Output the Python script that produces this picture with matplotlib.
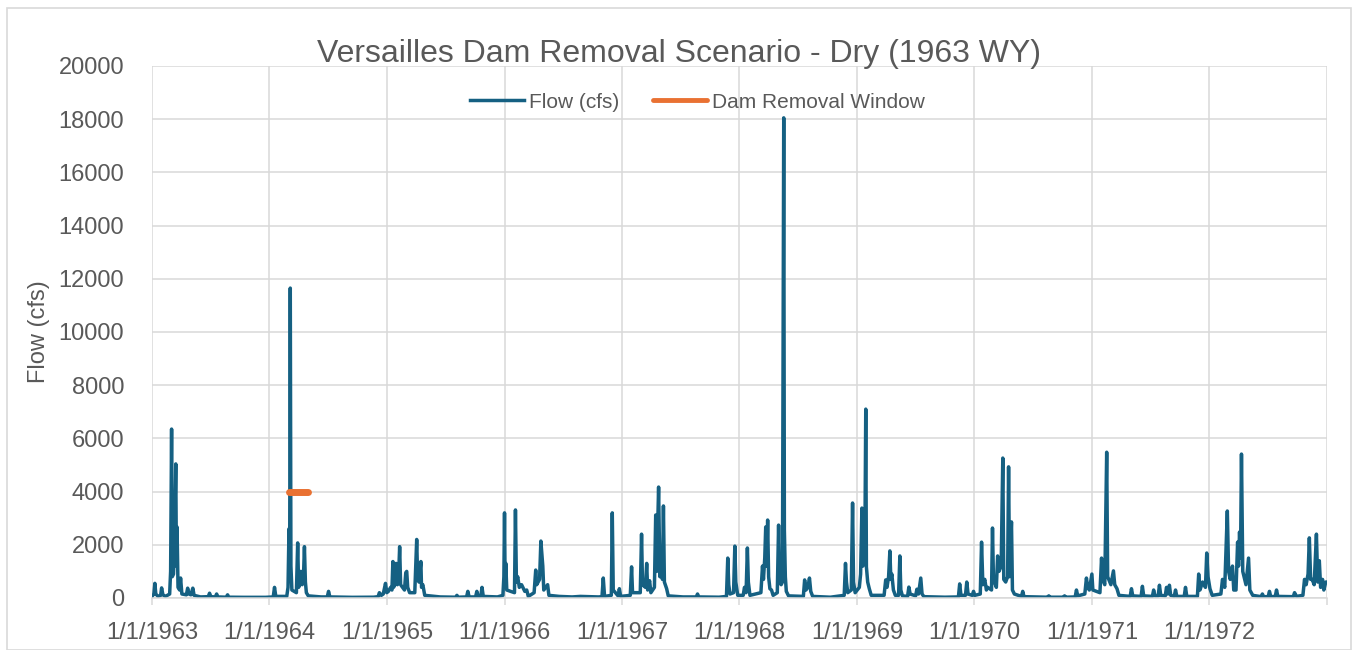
import pandas as pd
import matplotlib
matplotlib.use("Agg")
import matplotlib.pyplot as plt
from matplotlib.patches import Rectangle

plt.rcParams['font.family'] = ['Liberation Sans', 'DejaVu Sans']

# daily flow record (date, cfs)
record_1963 = [
    ("1963-01-01", 60), ("1963-01-07", 150), ("1963-01-10", 550), ("1963-01-13", 150),
    ("1963-01-20", 60), ("1963-01-28", 100), ("1963-01-31", 380), ("1963-02-04", 120),
    ("1963-02-12", 60), ("1963-02-25", 150), ("1963-02-28", 1000), ("1963-03-03", 6350),
    ("1963-03-05", 800), ("1963-03-09", 900), ("1963-03-12", 2000), ("1963-03-16", 5040),
    ("1963-03-18", 1200), ("1963-03-20", 2670), ("1963-03-23", 400), ("1963-03-28", 300),
    ("1963-03-31", 750), ("1963-04-04", 150), ("1963-04-18", 120), ("1963-04-22", 370),
    ("1963-04-26", 150), ("1963-05-02", 120), ("1963-05-08", 370), ("1963-05-12", 100),
    ("1963-06-01", 40), ("1963-06-25", 50), ("1963-06-29", 180), ("1963-07-03", 50),
    ("1963-07-17", 40), ("1963-07-21", 150), ("1963-07-25", 40), ("1963-08-20", 30),
    ("1963-08-24", 120), ("1963-08-28", 30), ("1963-10-15", 25), ("1963-12-20", 25),
]
record_1964 = [
    ("1964-01-13", 40), ("1964-01-17", 400), ("1964-01-21", 60), ("1964-02-24", 60),
    ("1964-02-28", 400), ("1964-03-02", 2600), ("1964-03-04", 800), ("1964-03-06", 11650),
    ("1964-03-08", 1200), ("1964-03-11", 300), ("1964-03-25", 200), ("1964-03-29", 2070),
    ("1964-04-01", 400), ("1964-04-05", 600), ("1964-04-08", 1000), ("1964-04-12", 500),
    ("1964-04-16", 800), ("1964-04-19", 1930), ("1964-04-22", 600), ("1964-04-25", 200),
    ("1964-05-01", 80), ("1964-06-10", 40), ("1964-06-29", 40), ("1964-07-03", 250),
    ("1964-07-07", 40), ("1964-09-15", 25), ("1964-11-20", 30),
]
record_1965 = [
    ("1964-12-04", 50), ("1964-12-08", 200), ("1964-12-14", 100), ("1964-12-20", 150),
    ("1964-12-27", 550), ("1964-12-31", 200), ("1965-01-05", 250), ("1965-01-12", 400),
    ("1965-01-16", 300), ("1965-01-19", 1370), ("1965-01-21", 400), ("1965-01-25", 500),
    ("1965-01-29", 1300), ("1965-02-02", 500), ("1965-02-06", 900), ("1965-02-09", 1930),
    ("1965-02-12", 500), ("1965-02-24", 300), ("1965-02-28", 950), ("1965-03-03", 1000),
    ("1965-03-06", 400), ("1965-03-12", 200), ("1965-03-28", 200), ("1965-04-03", 2200),
    ("1965-04-06", 700), ("1965-04-10", 600), ("1965-04-16", 1370), ("1965-04-18", 400),
    ("1965-04-22", 500), ("1965-04-28", 100), ("1965-06-15", 40), ("1965-08-02", 30),
    ("1965-08-06", 100), ("1965-08-10", 30), ("1965-09-05", 40), ("1965-09-09", 250),
    ("1965-09-13", 40), ("1965-10-03", 40), ("1965-10-07", 250), ("1965-10-11", 50),
    ("1965-10-19", 60), ("1965-10-23", 400), ("1965-10-27", 60), ("1965-12-10", 40),
]
record_1966 = [
    ("1965-12-27", 100), ("1965-12-30", 800), ("1966-01-01", 3200), ("1966-01-03", 400),
    ("1966-01-05", 1300), ("1966-01-08", 300), ("1966-02-01", 200), ("1966-02-04", 3310),
    ("1966-02-07", 600), ("1966-02-11", 800), ("1966-02-16", 400), ("1966-02-23", 500),
    ("1966-03-05", 250), ("1966-03-11", 300), ("1966-03-16", 60), ("1966-04-03", 200),
    ("1966-04-08", 1050), ("1966-04-11", 500), ("1966-04-20", 700), ("1966-04-24", 2140),
    ("1966-04-30", 1200), ("1966-05-03", 300), ("1966-05-15", 500), ("1966-05-19", 100),
    ("1966-06-20", 60), ("1966-07-30", 40), ("1966-08-25", 60), ("1966-10-20", 40),
    ("1966-10-31", 50), ("1966-11-04", 750), ("1966-11-08", 60), ("1966-11-29", 100),
    ("1966-12-02", 3200), ("1966-12-05", 300), ("1966-12-20", 80), ("1966-12-24", 350),
    ("1966-12-28", 60),
]
record_1967 = [
    ("1967-01-27", 100), ("1967-01-31", 1170), ("1967-02-03", 200), ("1967-02-27", 200),
    ("1967-03-03", 2400), ("1967-03-06", 500), ("1967-03-15", 400), ("1967-03-19", 1300),
    ("1967-03-22", 300), ("1967-03-28", 650), ("1967-04-01", 200), ("1967-04-12", 400),
    ("1967-04-16", 3120), ("1967-04-19", 1000), ("1967-04-25", 4170), ("1967-04-29", 800),
    ("1967-05-04", 1200), ("1967-05-07", 700), ("1967-05-10", 3460), ("1967-05-13", 600),
    ("1967-05-20", 350), ("1967-05-25", 80), ("1967-07-10", 40), ("1967-08-20", 40),
    ("1967-08-24", 150), ("1967-08-28", 40), ("1967-10-30", 30), ("1967-11-22", 60),
    ("1967-11-26", 1500), ("1967-11-29", 500), ("1967-12-03", 150), ("1967-12-14", 200),
    ("1967-12-18", 1950), ("1967-12-21", 600), ("1967-12-27", 100),
]
record_1968 = [
    ("1968-01-13", 100), ("1968-01-17", 400), ("1968-01-22", 200), ("1968-01-26", 1880),
    ("1968-01-29", 600), ("1968-02-03", 100), ("1968-03-08", 200), ("1968-03-13", 1200),
    ("1968-03-16", 700), ("1968-03-20", 1500), ("1968-03-23", 2670), ("1968-03-26", 1200),
    ("1968-03-29", 2930), ("1968-04-01", 800), ("1968-04-05", 350), ("1968-04-10", 300),
    ("1968-04-15", 100), ("1968-04-28", 200), ("1968-05-02", 2740), ("1968-05-05", 600),
    ("1968-05-10", 500), ("1968-05-14", 600), ("1968-05-18", 18050), ("1968-05-20", 2560),
    ("1968-05-23", 800), ("1968-05-26", 250), ("1968-06-02", 80), ("1968-07-18", 60),
    ("1968-07-22", 680), ("1968-07-26", 300), ("1968-08-01", 400), ("1968-08-06", 750),
    ("1968-08-10", 250), ("1968-08-16", 60), ("1968-10-10", 30), ("1968-11-22", 100),
    ("1968-11-26", 1300), ("1968-11-29", 600), ("1968-12-03", 200), ("1968-12-14", 300),
    ("1968-12-18", 3570), ("1968-12-21", 600), ("1968-12-26", 200),
]
record_1969 = [
    ("1969-01-08", 400), ("1969-01-12", 900), ("1969-01-16", 3380), ("1969-01-19", 1200),
    ("1969-01-22", 2000), ("1969-01-25", 1500), ("1969-01-28", 7100), ("1969-01-30", 1170),
    ("1969-02-03", 600), ("1969-02-08", 350), ("1969-02-14", 100), ("1969-03-26", 100),
    ("1969-03-31", 680), ("1969-04-04", 400), ("1969-04-09", 800), ("1969-04-13", 1770),
    ("1969-04-16", 700), ("1969-04-19", 900), ("1969-04-24", 300), ("1969-04-30", 100),
    ("1969-05-10", 100), ("1969-05-14", 1580), ("1969-05-17", 300), ("1969-05-22", 80),
    ("1969-06-07", 60), ("1969-06-11", 410), ("1969-06-15", 150), ("1969-07-02", 80),
    ("1969-07-06", 330), ("1969-07-11", 150), ("1969-07-18", 750), ("1969-07-22", 150),
    ("1969-07-28", 50), ("1969-10-01", 30), ("1969-11-12", 40), ("1969-11-16", 530),
    ("1969-11-20", 100), ("1969-12-04", 100), ("1969-12-08", 600), ("1969-12-12", 150),
    ("1969-12-25", 100), ("1969-12-29", 250),
]
record_1970 = [
    ("1970-01-02", 100), ("1970-01-19", 150), ("1970-01-23", 2100), ("1970-01-27", 500),
    ("1970-02-02", 700), ("1970-02-07", 300), ("1970-02-11", 400), ("1970-02-23", 300),
    ("1970-02-26", 2630), ("1970-03-01", 700), ("1970-03-10", 400), ("1970-03-14", 1580),
    ("1970-03-18", 1000), ("1970-03-25", 1200), ("1970-03-30", 5260), ("1970-04-02", 700),
    ("1970-04-08", 600), ("1970-04-14", 800), ("1970-04-17", 4930), ("1970-04-20", 800),
    ("1970-04-26", 2860), ("1970-04-29", 300), ("1970-05-05", 150), ("1970-05-27", 60),
    ("1970-05-31", 250), ("1970-06-04", 50), ("1970-08-16", 30), ("1970-08-20", 80),
    ("1970-08-24", 30), ("1970-10-04", 30), ("1970-10-08", 80), ("1970-10-12", 30),
    ("1970-11-10", 40), ("1970-11-14", 300), ("1970-11-18", 80), ("1970-12-10", 150),
    ("1970-12-15", 750), ("1970-12-19", 400), ("1970-12-24", 300),
]
record_1971 = [
    ("1971-01-01", 900), ("1971-01-04", 300), ("1971-01-26", 200), ("1971-01-31", 1500),
    ("1971-02-03", 700), ("1971-02-10", 500), ("1971-02-16", 5480), ("1971-02-19", 800),
    ("1971-03-01", 500), ("1971-03-09", 1020), ("1971-03-13", 500), ("1971-03-20", 350),
    ("1971-03-26", 100), ("1971-04-30", 60), ("1971-05-04", 350), ("1971-05-08", 80),
    ("1971-06-03", 60), ("1971-06-07", 440), ("1971-06-11", 80), ("1971-07-08", 60),
    ("1971-07-12", 300), ("1971-07-16", 80), ("1971-07-26", 80), ("1971-07-30", 480),
    ("1971-08-03", 100), ("1971-08-17", 80), ("1971-08-21", 400), ("1971-08-25", 150),
    ("1971-08-30", 480), ("1971-09-03", 100), ("1971-09-14", 60), ("1971-09-18", 300),
    ("1971-09-22", 60), ("1971-10-15", 60), ("1971-10-19", 400), ("1971-10-23", 60),
    ("1971-11-25", 60), ("1971-11-29", 900), ("1971-12-03", 300), ("1971-12-11", 600),
    ("1971-12-20", 400), ("1971-12-24", 1690), ("1971-12-28", 800),
]
record_1972 = [
    ("1972-01-03", 350), ("1972-01-10", 100), ("1972-02-06", 150), ("1972-02-11", 700),
    ("1972-02-18", 400), ("1972-02-26", 3270), ("1972-03-01", 1000), ("1972-03-06", 700),
    ("1972-03-13", 1200), ("1972-03-17", 300), ("1972-03-24", 300), ("1972-03-29", 2100),
    ("1972-04-01", 1200), ("1972-04-04", 2480), ("1972-04-07", 1500), ("1972-04-10", 5410),
    ("1972-04-14", 1000), ("1972-04-24", 500), ("1972-05-02", 1500), ("1972-05-06", 300),
    ("1972-05-15", 100), ("1972-06-10", 50), ("1972-06-14", 150), ("1972-06-18", 50),
    ("1972-07-02", 50), ("1972-07-06", 250), ("1972-07-10", 50), ("1972-07-24", 60),
    ("1972-07-28", 300), ("1972-08-01", 60), ("1972-09-18", 50), ("1972-09-22", 200),
    ("1972-09-28", 60), ("1972-10-18", 100), ("1972-10-23", 700), ("1972-10-28", 500),
    ("1972-11-03", 900), ("1972-11-07", 2260), ("1972-11-11", 700), ("1972-11-16", 700),
    ("1972-11-22", 500), ("1972-11-29", 2400), ("1972-12-03", 600), ("1972-12-08", 1400),
    ("1972-12-12", 400), ("1972-12-18", 700), ("1972-12-22", 300), ("1972-12-28", 600),
    ("1972-12-31", 600),
]

window_dates = ["1964-03-01", "1964-04-30"]
window_flow = [4000, 4000]

tick_years = list(range(1963, 1974))
tick_labels = [f"1/1/{y}" for y in range(1963, 1973)] + [""]

records = (record_1963 + record_1964 + record_1965 + record_1966 + record_1967 +
           record_1968 + record_1969 + record_1970 + record_1971 + record_1972)
flow = pd.DataFrame(records, columns=["date", "cfs"])
flow["date"] = pd.to_datetime(flow["date"])
flow = flow.sort_values("date")

grey = "#595959"
grid = "#D9D9D9"

fig = plt.figure(figsize=(13.58, 6.5), dpi=100)
ax = fig.add_axes([0.1119, 0.08, 0.8653, 0.8185])

ax.plot(flow["date"], flow["cfs"], color="#156082", lw=2.5, label="Flow (cfs)",
        solid_joinstyle="round")
ax.plot(pd.to_datetime(window_dates), window_flow, color="#E97132", lw=5,
        solid_capstyle="round", label="Dam Removal Window")

ax.set_xlim(pd.Timestamp("1963-01-01"), pd.Timestamp("1973-01-01"))
ax.set_ylim(0, 20000)
ax.set_yticks(range(0, 20001, 2000))
ax.set_xticks([pd.Timestamp(f"{y}-01-01") for y in tick_years])
ax.set_xticklabels(tick_labels)

ax.grid(True, color=grid, lw=1.1)
ax.set_axisbelow(True)
for s in ["top", "right", "left"]:
    ax.spines[s].set_visible(False)
ax.spines["bottom"].set_color(grid)
ax.spines["bottom"].set_linewidth(1.1)

ax.tick_params(axis="y", length=0, pad=20, labelsize=17, labelcolor=grey)
ax.tick_params(axis="x", length=5, width=1.1, color=grid, pad=12, labelsize=17,
               labelcolor=grey)

ax.set_ylabel("Flow (cfs)", fontsize=17, color=grey, labelpad=6)
fig.suptitle("Versailles Dam Removal Scenario - Dry (1963 WY)", fontsize=23,
             color=grey, y=0.94, x=0.5)

leg = ax.legend(loc="upper center", bbox_to_anchor=(0.464, 0.985), ncol=2, frameon=False,
                fontsize=15, handlelength=2.6, columnspacing=1.6, handletextpad=0.25)
for t in leg.get_texts():
    t.set_color(grey)
leg.legend_handles[0].set_linewidth(2.5)
leg.legend_handles[1].set_linewidth(3.5)

fig.patches.append(Rectangle((7 / 1358, 0), 1344 / 1358, 1 - 8 / 650,
                             transform=fig.transFigure, fill=False,
                             edgecolor=grid, lw=1.2))

fig.savefig("out.png", dpi=100)
